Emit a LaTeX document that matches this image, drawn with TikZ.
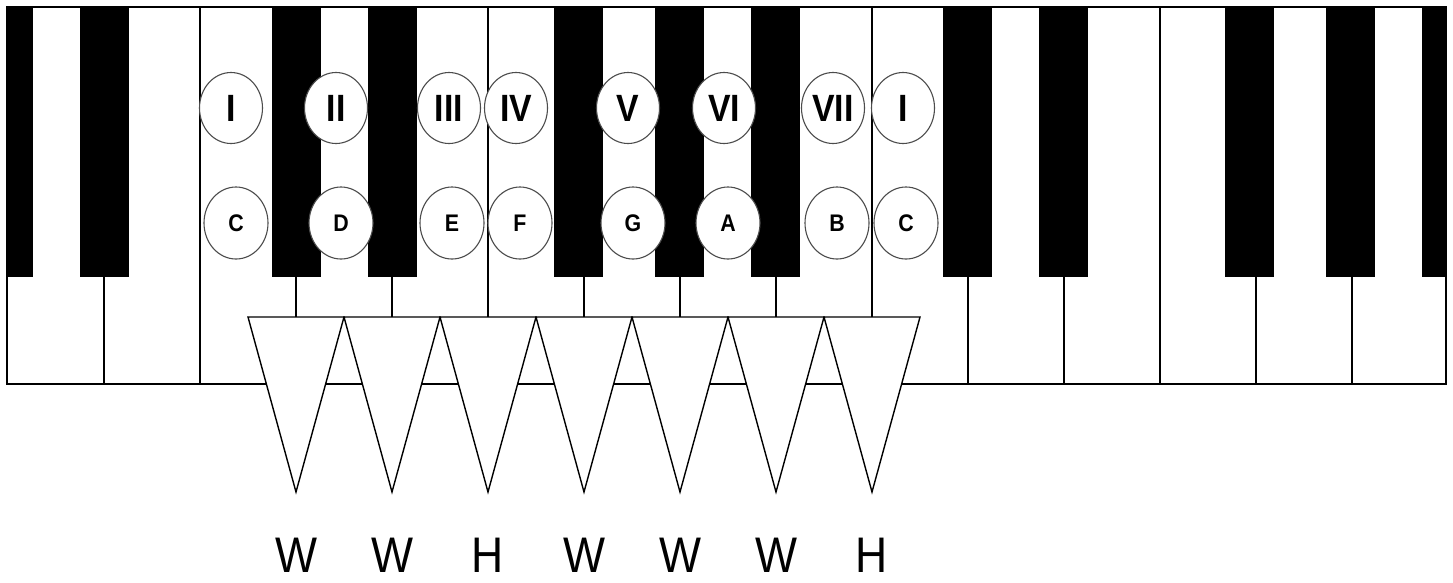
\documentclass[tikz,border=0pt]{standalone}
\usepackage{fontspec}
\setmainfont{Liberation Sans}[FakeStretch=0.89]
\usetikzlibrary{shapes.geometric}
\tikzset{ deg/.style = { ellipse % scale degree
        , draw = black!70
        , line width = 1.1pt
        , fill = white
        , minimum width = 63pt
        , minimum height = 71pt
        , inner sep = 0pt
        , font = \fontsize{38}{38}\selectfont\bfseries
        }
        , nt/.style = { ellipse % note name
        , draw = black!70
        , line width = 1.1pt
        , fill = white
        , minimum width = 64pt
        , minimum height = 72pt
        , inner sep = 0pt
        , font = \fontsize{24}{24}\selectfont\bfseries
        }
        , iv/.style = { rectangle % interval
        , inner sep = 0pt
        , anchor = base
        , font = \fontsize{50}{50}\selectfont
        }
        }

\begin{document}
\begin{tikzpicture}[x=1pt, y=-1pt, line width=1.6pt,
        key_edge_style/.style={draw=black, line width=1.6pt},
        black_key_style/.style={fill=black, draw=none},
        wedge_style/.style={draw=black, fill=white, line width=1.4pt, line join=miter}]
        \useasboundingbox (0,0) rectangle (1453,582);

        % white keys
        \fill[white] (7,7) rectangle (1446,384);
        \foreach \x in {104,200,...,1352}
            \draw[key_edge_style] (\x,7) -- (\x,384);
        % black keys
        \begin{scope}
            \clip (7,7) rectangle (1446,384);
            \foreach \c in {8,104,296,392,578,679,775,967,1063,1249,1350,1446}
                \fill[black_key_style] (\c-24.5,7) rectangle (\c+24.5,277);
        \end{scope}
        \draw[key_edge_style] (7,7) rectangle (1446,384);

        % steps
        \foreach \k/\s in {0/W,1/W,2/H,3/W,4/W,5/W,6/H} {
            \draw[wedge_style] (248+96*\k,317) -- (344+96*\k,317) -- (296+96*\k,492) -- cycle;
            \node[iv] (s\k) at (296+96*\k,572) {\s};
        }

        \node [deg](r1) at (231,108) {I};
        \node [deg](r2) at (336,108) {II};
        \node [deg](r3) at (449,108) {III};
        \node [deg](r4) at (516,108) {IV};
        \node [deg](r5) at (628,108) {V};
        \node [deg](r6) at (724,108) {VI};
        \node [deg](r7) at (833,108) {VII};
        \node [deg](r8) at (903,108) {I};

        \node [nt](n1) at (236,223) {C};
        \node [nt](n2) at (341,223) {D};
        \node [nt](n3) at (452,223) {E};
        \node [nt](n4) at (520,223) {F};
        \node [nt](n5) at (633,223) {G};
        \node [nt](n6) at (728,223) {A};
        \node [nt](n7) at (837,223) {B};
        \node [nt](n8) at (906,223) {C};
\end{tikzpicture}
\end{document}
